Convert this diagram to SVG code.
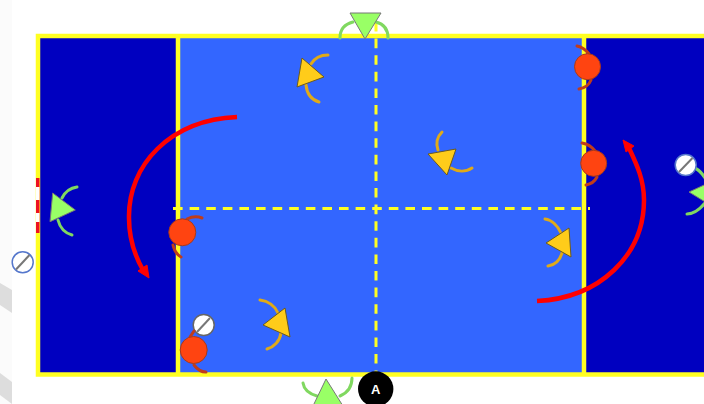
<svg xmlns="http://www.w3.org/2000/svg" width="704" height="404" viewBox="0 0 704 404">
<style>
.dash{stroke:#ffff22;stroke-width:3;stroke-dasharray:9.600 7;fill:none}
.line{stroke:#ffff22;stroke-width:4.500;fill:none}
.arc{fill:none;stroke-width:3;stroke-linecap:round}
.y polygon{fill:#ffcc1a;stroke:#6b5a20;stroke-width:1}
.y path{stroke:#e0aa18}
.g polygon{fill:#99ff66;stroke:#777;stroke-width:1}
.g path{stroke:#80d860}
.r circle{fill:#ff4411;stroke:#a83a1a;stroke-width:1}
.r path{stroke:#c03c1a}
.w circle{fill:#fff;stroke:#666;stroke-width:1.500}
.w line{stroke:#777;stroke-width:2}
.wb circle{stroke:#5577cc;stroke-width:1.500}
.conn{fill:none;stroke:#ff0000;stroke-width:4.500}
</style>
<rect width="704" height="404" fill="#fff"/>
<rect width="12" height="404" fill="#fbfbfb"/>
<polygon points="0,283 12,290 12,313 0,305" fill="#dddddd"/>
<polygon points="0,373 12,382 12,404 0,395" fill="#dddddd"/>
<g id="court">
<rect x="38" y="36" width="670" height="338.500" fill="#0000c0"/>
<rect x="178" y="36" width="406" height="338.500" fill="#3366ff"/>
<rect x="38" y="36" width="670" height="338.500" class="line"/>
<line x1="178" y1="36" x2="178" y2="374" class="line"/>
<line x1="584" y1="36" x2="584" y2="374" class="line"/>
<line x1="173" y1="208.500" x2="590" y2="208.500" class="dash"/>
<line x1="376" y1="22" x2="376" y2="374" class="dash"/>
<rect x="36" y="178" width="3.500" height="55" fill="#ee1122"/>
<rect x="36" y="187" width="3.500" height="13" fill="#fff"/>
<rect x="36" y="213" width="3.500" height="9" fill="#fff"/>
</g>
<g id="green-top" class="g">
<path class="arc" d="M340 38C340 29 345 24 353 22"/>
<path class="arc" d="M388 38C388 29 384 24 376 22"/>
<polygon points="350,13 381,13 365,39"/>
</g>
<g id="green-left" class="g">
<path class="arc" d="M77 187C70 188 65 192 62 198"/>
<path class="arc" d="M58 220C60 228 65 233 72 235"/>
<polygon points="52.700,193 75.300,210 50,221.700"/>
</g>
<g id="green-right" class="g">
<path class="arc" d="M693 167C698 169 702 173 705 178"/>
<path class="arc" d="M687 214C694 214 700 209 705 203"/>
<polygon points="689,192 715,180 715,208"/>
</g>
<g id="green-bottom" class="g">
<path class="arc" d="M303 383C304 390 310 394 317 396"/>
<path class="arc" d="M352 378C352 387 347 393 340 396"/>
<polygon points="326,379 313,406 343,406"/>
</g>
<g id="yellow-1" class="y">
<path class="arc" d="M328 55C320 55 314 59 311 64"/>
<path class="arc" d="M306 85C307 94 312 100 319 102"/>
<polygon points="302,58 324,77 297,87"/>
</g>
<g id="yellow-2" class="y">
<path class="arc" d="M442 132C437 137 436 144 438 150"/>
<path class="arc" d="M451 168C458 172 466 172 472 168"/>
<polygon points="428,154 456,149 447,175"/>
</g>
<g id="yellow-3" class="y">
<path class="arc" d="M545 219C552 220 558 226 561 233"/>
<path class="arc" d="M562 253C560 260 555 265 548 266"/>
<polygon points="546,243 569,228 571,257"/>
</g>
<g id="yellow-4" class="y">
<path class="arc" d="M260 300C268 301 275 306 278 313"/>
<path class="arc" d="M281 333C280 341 274 347 267 349"/>
<polygon points="263,325 285,308 290,337"/>
</g>
<g id="white-3" class="w"><circle cx="203.700" cy="325" r="10.500"/><line x1="197" y1="332" x2="210" y2="318"/></g>
<g id="red-1" class="r">
<path class="arc" d="M577 46C582 47 586 50 589 54"/>
<path class="arc" d="M579 89C585 88 589 85 591 80"/>
<circle cx="587.500" cy="66.700" r="13"/>
</g>
<g id="red-2" class="r">
<path class="arc" d="M582 143C588 144 592 147 595 151"/>
<path class="arc" d="M586 185C591 184 595 181 597 177"/>
<circle cx="593.700" cy="163.300" r="13"/>
</g>
<g id="red-3" class="r">
<path class="arc" d="M202 218C197 216 191 217 187 219"/>
<path class="arc" d="M181 257C176 254 174 250 173 245"/>
<circle cx="182.300" cy="232.300" r="13.500"/>
</g>
<g id="red-4" class="r">
<path class="arc" d="M206 372C201 372 197 369 194 365"/>
<path class="arc" d="M190 337L194 331"/>
<circle cx="193.700" cy="350" r="13.500"/>
</g>
<g id="white-1" class="w wb"><circle cx="22.700" cy="262.300" r="10.500"/><line x1="16" y1="269.500" x2="29.500" y2="255"/></g>
<g id="white-2" class="w wb"><circle cx="685.700" cy="165" r="10.500"/><line x1="679" y1="172" x2="692.500" y2="158"/></g>
<g id="referee-a">
<circle cx="375.700" cy="389" r="17.700" fill="#000"/>
<text x="375.700" y="394" text-anchor="middle" font-family="Liberation Sans, Arial, sans-serif" font-weight="bold" font-size="13" fill="#fff">A</text>
</g>
<g id="connectors">
<path class="conn" d="M237 117C170 120 128 165 129 218C129 240 135 256 143 270"/>
<polygon points="138,271 149,278 147,265" fill="#ff0000" stroke="#ff0000" stroke-width="1"/>
<path class="conn" d="M537 301C600 298 644 255 644 200C644 180 637 165 629 148"/>
<polygon points="623,140 634,146 626,152" fill="#ff0000" stroke="#ff0000" stroke-width="1"/>
</g>
</svg>
